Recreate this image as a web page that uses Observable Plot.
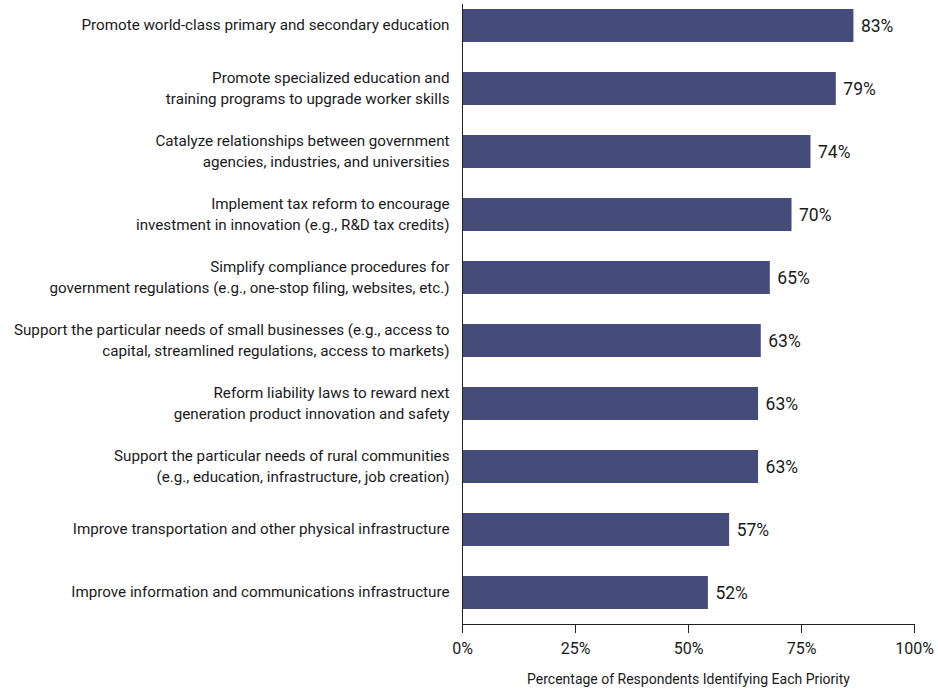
<!DOCTYPE html>
<html>
<head>
<meta charset="utf-8">
<script src="https://cdn.jsdelivr.net/npm/d3@7"></script>
<script src="https://cdn.jsdelivr.net/npm/@observablehq/plot@0.6"></script>
<style>
  html, body { margin: 0; padding: 0; background: #fff; }
  #chart svg { display: block; }
</style>
</head>
<body>
<div id="chart"></div>
<script>
// Priority labels (line breaks as printed)
const categories = [
  "Promote world-class primary and secondary education",
  "Promote specialized education and\ntraining programs to upgrade worker skills",
  "Catalyze relationships between government\nagencies, industries, and universities",
  "Implement tax reform to encourage\ninvestment in innovation (e.g., R&D tax credits)",
  "Simplify compliance procedures for\ngovernment regulations (e.g., one-stop filing, websites, etc.)",
  "Support the particular needs of small businesses (e.g., access to\ncapital, streamlined regulations, access to markets)",
  "Reform liability laws to reward next\ngeneration product innovation and safety",
  "Support the particular needs of rural communities\n(e.g., education, infrastructure, job creation)",
  "Improve transportation and other physical infrastructure",
  "Improve information and communications infrastructure"
];
// Percentages printed next to the bars
const printedValues = [83, 79, 74, 70, 65, 63, 63, 63, 57, 52];
// Bar lengths as read against the drawn percentage axis
const barLengths = [86.6, 82.7, 77.1, 72.9, 68.1, 66.1, 65.5, 65.5, 59.1, 54.4];
// Axis ticks
const tickValues = [0, 25, 50, 75, 100];
const tickLabels = ["0%", "25%", "50%", "75%", "100%"];
const axisTitle = "Percentage of Respondents Identifying Each Priority";

const data = categories.map((c, i) => ({category: c, bar: barLengths[i], printed: printedValues[i]}));

const FONT = "Roboto, 'DejaVu Sans Condensed', sans-serif";

const chart = Plot.plot({
  width: 938,
  height: 696,
  marginTop: 4,
  marginBottom: 72,
  marginLeft: 462,
  marginRight: 24,
  style: {fontFamily: FONT, color: "#1a1a1a", background: "#fff"},
  x: {domain: [0, 100]},
  y: {domain: categories, paddingInner: 0.48, paddingOuter: 0.047, insetBottom: 9.5, axis: null},
  marks: [
    Plot.barX(data, {y: "category", x: "bar", fill: "#454c7a"}),
    Plot.text(data, {
      y: "category", text: "category", frameAnchor: "left", textAnchor: "end",
      dx: -13, dy: -2, lineHeight: 1.33, fontSize: 15.2, fill: "#1a1a1a"
    }),
    Plot.text(data, {
      y: "category", x: "bar", text: d => d.printed + "%", textAnchor: "start",
      dx: 7, fontSize: 17.5, fill: "#1a1a1a"
    }),
    Plot.frame({anchor: "left", stroke: "#222"}),
    Plot.frame({anchor: "bottom", stroke: "#222"}),
    Plot.axisX({
      ticks: tickValues,
      tickFormat: (d, i) => tickLabels[tickValues.indexOf(d)],
      tickSize: 9, tickPadding: 9, fontSize: 16, label: null, stroke: "#222"
    }),
    Plot.text([axisTitle], {frameAnchor: "bottom", dy: 59, fontSize: 14, fill: "#1a1a1a"})
  ]
});
document.getElementById("chart").appendChild(chart);
</script>
</body>
</html>
